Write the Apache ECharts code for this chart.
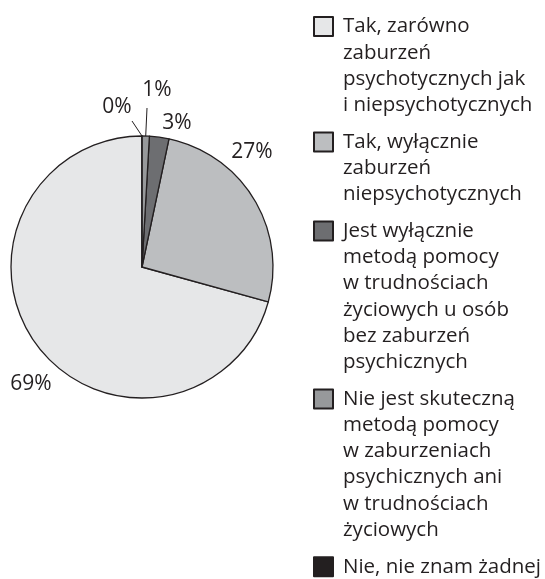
<!DOCTYPE html>
<html>
<head>
<meta charset="utf-8">
<script src="https://cdn.jsdelivr.net/npm/echarts@6/dist/echarts.min.js"></script>
<style>
  html, body { margin: 0; padding: 0; background: #fff; }
  #main { width: 545px; height: 579px; }
</style>
</head>
<body>
<div id="main"></div>
<script>
// kategorie (w kolejności legendy)
const categories = [
  'Tak, zarówno\nzaburzeń\npsychotycznych jak\ni niepsychotycznych',
  'Tak, wyłącznie\nzaburzeń\nniepsychotycznych',
  'Jest wyłącznie\nmetodą pomocy\nw trudnościach\nżyciowych u osób\nbez zaburzeń\npsychicznych',
  'Nie jest skuteczną\nmetodą pomocy\nw zaburzeniach\npsychicznych ani\nw trudnościach\nżyciowych',
  'Nie, nie znam żadnej'
]
// udział wycinków
const shares = [70.7, 26.0, 2.4, 0.9, 0]
// etykiety procentowe wydrukowane na wykresie
const percentLabels = [69, 27, 3, 1, 0]

const colors = ['#e6e7e8', '#bcbec0', '#6d6e71', '#97999b', '#231f20']
const textColor = '#231f20'
const font = 'Open Sans'

const CX = 142
const CY = 267
const R = 131
// położenie etykiet względem środka koła
const labelOffsets = [[-111, 117], [110, -115], [35, -144], [15, -177], [-25, -160]]
// końce linii odniesienia (tylko 1% i 0%)
const lineEnds = [null, null, null, [5, -159], [-10, -146]]

// legenda: wysokość wiersza i odstęp między pozycjami
const lineH = 26.2
const itemSpace = 36.8
const legendFirstY = 26.5

const chart = echarts.init(document.getElementById('main'))

// każda pozycja legendy osobno; tekst jest centrowany na kwadracie,
// więc puste wiersze nad nim ustawiają pierwszy wiersz na wysokości kwadratu
let y = legendFirstY
const legends = categories.map((name) => {
  const lines = name.split('\n').length
  const padLines = lines - 1
  const leg = {
    orient: 'vertical',
    left: 313,
    top: y - lineH / 2 - padLines * lineH,
    padding: 0,
    itemWidth: 19,
    itemHeight: 19,
    icon: 'rect',
    selectedMode: false,
    itemStyle: {
      borderColor: textColor,
      borderWidth: 2
    },
    formatter: (n) => '\n'.repeat(padLines) + n,
    textStyle: {
      fontFamily: font,
      fontSize: 20.5,
      color: textColor,
      lineHeight: lineH,
      padding: [0, 0, 0, 5]
    },
    data: [name]
  }
  y += (lines - 1) * lineH + itemSpace
  return leg
})

const option = {
  animation: false,
  backgroundColor: '#fff',
  legend: legends,
  series: [
    {
      type: 'pie',
      center: [CX, CY],
      radius: R,
      startAngle: 90,
      clockwise: false,
      avoidLabelOverlap: false,
      silent: true,
      itemStyle: {
        borderColor: textColor,
        borderWidth: 1.3
      },
      label: {
        show: true,
        position: 'outside',
        fontFamily: font,
        fontSize: 21,
        color: textColor,
        formatter: (p) => percentLabels[p.dataIndex] + '%'
      },
      labelLine: {
        show: true,
        length: 10,
        length2: 0,
        lineStyle: { color: textColor, width: 1 }
      },
      labelLayout: function (p) {
        const o = labelOffsets[p.dataIndex]
        const res = {
          x: CX + o[0],
          y: CY + o[1],
          align: 'center',
          verticalAlign: 'middle'
        }
        const e = lineEnds[p.dataIndex]
        if (e && p.labelLinePoints) {
          res.labelLinePoints = [p.labelLinePoints[0], [CX + e[0], CY + e[1]]]
        }
        return res
      },
      data: categories.map((name, i) => ({
        name: name,
        value: shares[i],
        itemStyle: { color: colors[i] },
        labelLine: { show: lineEnds[i] !== null }
      }))
    }
  ]
}

chart.setOption(option)
</script>
</body>
</html>
